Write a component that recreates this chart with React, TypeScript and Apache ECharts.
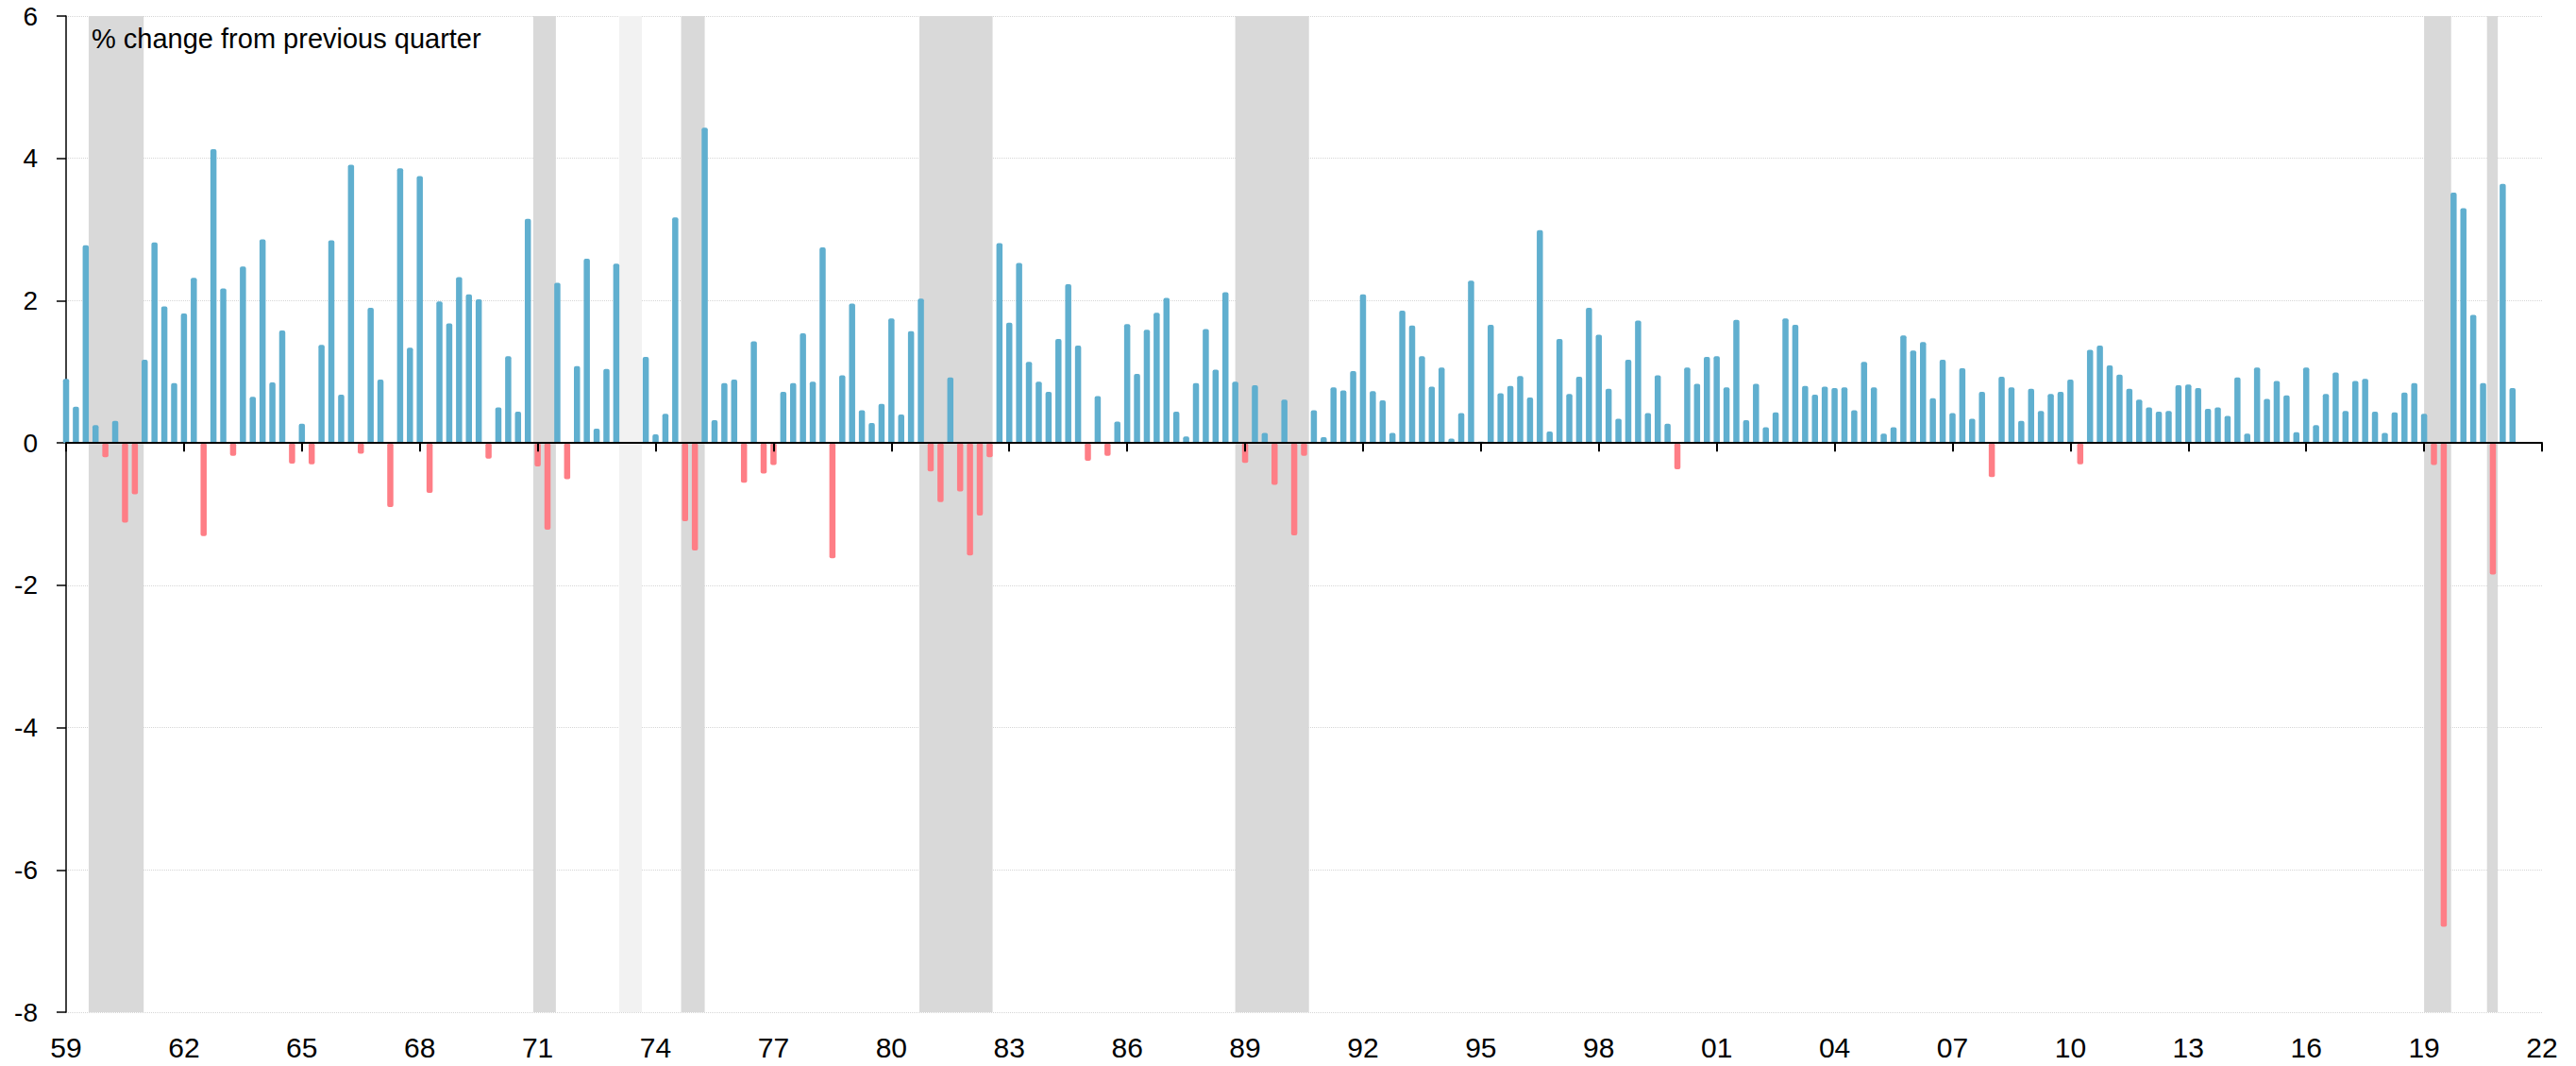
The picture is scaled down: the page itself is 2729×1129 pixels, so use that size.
import React, { useEffect, useRef } from "react";
import * as echarts from "echarts";

// Quarterly % change, first bar = Dec quarter 1959, one value per quarter
const growth1959q4to1969q4 = [
  0.9, 0.51, 2.78, 0.25, -0.2, 0.31, -1.12, -0.72, 1.17, 2.82, 1.92, 0.84,
  1.82, 2.32, -1.31, 4.13, 2.17, -0.18, 2.48, 0.65, 2.86, 0.85, 1.58, -0.29,
  0.27, -0.3, 1.38, 2.85, 0.68, 3.91, -0.15, 1.9, 0.89, -0.9, 3.86, 1.34,
  3.75, -0.7, 1.99, 1.68, 2.33,
];
const growth1970s = [
  2.09, 2.02, -0.22, 0.5, 1.22, 0.44, 3.15, -0.33, -1.22, 2.25, -0.51, 1.08,
  2.59, 0.2, 1.04, 2.52, null, null, 1.21, 0.12, 0.41, 3.17, -1.1, -1.51,
  4.43, 0.32, 0.84, 0.89, -0.56, 1.43, -0.43, -0.31, 0.72, 0.84, 1.54, 0.86,
  2.75, -1.62, 0.95, 1.96,
];
const growth1980s = [
  0.46, 0.28, 0.55, 1.75, 0.4, 1.57, 2.03, -0.4, -0.83, 0.92, -0.68, -1.58,
  -1.02, -0.2, 2.81, 1.69, 2.53, 1.14, 0.86, 0.72, 1.46, 2.23, 1.37, -0.25,
  0.66, -0.18, 0.3, 1.67, 0.97, 1.59, 1.83, 2.04, 0.44, 0.09, 0.84, 1.6,
  1.03, 2.12, 0.86, -0.28,
];
const growth1990s = [
  0.81, 0.14, -0.59, 0.61, -1.3, -0.18, 0.46, 0.08, 0.78, 0.74, 1.01, 2.09,
  0.73, 0.6, 0.14, 1.86, 1.65, 1.22, 0.79, 1.06, 0.06, 0.42, 2.28, 0.02,
  1.66, 0.7, 0.8, 0.94, 0.64, 2.99, 0.16, 1.46, 0.69, 0.93, 1.9, 1.52,
  0.76, 0.34, 1.17, 1.72,
];
const growth2000s = [
  0.42, 0.95, 0.27, -0.37, 1.06, 0.83, 1.21, 1.22, 0.78, 1.73, 0.32, 0.83,
  0.22, 0.43, 1.75, 1.66, 0.8, 0.68, 0.79, 0.77, 0.78, 0.46, 1.14, 0.78,
  0.13, 0.22, 1.51, 1.3, 1.42, 0.63, 1.17, 0.42, 1.05, 0.34, 0.72, -0.48,
  0.93, 0.78, 0.31, 0.76,
];
const growth2010s = [
  0.45, 0.69, 0.72, 0.89, -0.3, 1.31, 1.37, 1.09, 0.96, 0.76, 0.61, 0.5,
  0.44, 0.45, 0.81, 0.82, 0.77, 0.48, 0.5, 0.38, 0.92, 0.13, 1.06, 0.62,
  0.87, 0.67, 0.15, 1.06, 0.25, 0.69, 0.99, 0.45, 0.87, 0.9, 0.44, 0.14,
  0.43, 0.71, 0.84, 0.41,
];
const growth2020s = [-0.31, -6.8, 3.52, 3.3, 1.8, 0.84, -1.85, 3.64, 0.77];

// x-axis tick labels (every 12 quarters, Dec quarter of each labelled year)
const xTickLabels = [
  "59", "62", "65", "68", "71", "74", "77", "80", "83", "86", "89",
  "92", "95", "98", "01", "04", "07", "10", "13", "16", "19", "22",
];

// shaded periods, in quarter-index units from the first bar
const recessionBands = [
  [2.3, 7.9],
  [47.55, 49.85],
  [62.6, 65.0],
  [86.85, 94.3],
  [119.0, 126.5],
  [240.0, 242.75],
  [246.4, 247.5],
];
const dataBreakBand = [56.3, 58.6];

const TITLE = "% change from previous quarter";
const FONT = "'Liberation Sans', Arial, sans-serif";
const BLUE = "#60AFCF";
const RED = "#FE7E86";

export default function App() {
  const ref = useRef<HTMLDivElement>(null);

  useEffect(() => {
    document.body.style.margin = "0";
    if (!ref.current) return;
    const chart = echarts.init(ref.current, undefined, { renderer: "svg" });

    const allGrowth: (number | null)[] = [
      ...growth1959q4to1969q4,
      ...growth1970s,
      ...growth1980s,
      ...growth1990s,
      ...growth2000s,
      ...growth2010s,
      ...growth2020s,
    ];
    const barData = allGrowth
      .map((v, i) => (v === null ? null : [i, v]))
      .filter((d) => d !== null);

    const xMax = (xTickLabels.length - 1) * 12;

    const option: any = {
      animation: false,
      backgroundColor: "#fff",
      grid: { left: 70, right: 36, top: 17, bottom: 57, containLabel: false },
      graphic: [
        {
          type: "text",
          x: 97,
          y: 41,
          z: 100,
          style: {
            text: TITLE,
            fontSize: 29,
            fontFamily: FONT,
            fill: "#000",
            align: "left",
            verticalAlign: "middle",
          },
        },
      ],
      xAxis: [
        {
          type: "value",
          min: 0,
          max: xMax,
          interval: 12,
          position: "bottom",
          z: 10,
          axisLine: { show: true, onZero: true, lineStyle: { color: "#000", width: 2 } },
          axisTick: { show: true, length: 9, lineStyle: { color: "#000", width: 2 } },
          axisLabel: { show: false },
          splitLine: { show: false },
        },
        {
          type: "value",
          min: 0,
          max: xMax,
          interval: 12,
          position: "bottom",
          axisLine: { show: false, onZero: false },
          axisTick: { show: false },
          splitLine: { show: false },
          axisLabel: {
            show: true,
            margin: 22,
            fontSize: 30,
            lineHeight: 30,
            fontFamily: FONT,
            color: "#000",
            formatter: (v: number) => xTickLabels[Math.round(v / 12)] ?? "",
          },
        },
      ],
      yAxis: {
        type: "value",
        min: -8,
        max: 6,
        interval: 2,
        axisLine: { show: true, lineStyle: { color: "#000", width: 1.5 } },
        axisTick: { show: true, length: 10, lineStyle: { color: "#000", width: 1.5 } },
        axisLabel: { fontSize: 28, fontFamily: FONT, color: "#000", margin: 30 },
        splitLine: { show: true, lineStyle: { color: "#d6d6d6", type: "dotted", width: 1 } },
      },
      series: [
        {
          type: "line",
          name: "recessions",
          data: [],
          z: 1,
          silent: true,
          markArea: {
            silent: true,
            itemStyle: { color: "#d9d9d9", opacity: 1 },
            data: recessionBands.map(([a, b]) => [{ xAxis: a }, { xAxis: b }]),
          },
        },
        {
          type: "bar",
          name: "growth",
          xAxisIndex: 0,
          data: barData,
          barWidth: 6.5,
          z: 2,
          itemStyle: {
            borderRadius: 2,
            color: (p: any) => (p.value[1] < 0 ? RED : BLUE),
          },
        },
        {
          type: "line",
          name: "break",
          data: [],
          z: 11,
          silent: true,
          markArea: {
            silent: true,
            itemStyle: { color: "#f2f2f2", opacity: 1 },
            data: [[{ xAxis: dataBreakBand[0] }, { xAxis: dataBreakBand[1] }]],
          },
        },
      ],
    };

    chart.setOption(option);
    return () => chart.dispose();
  }, []);

  return <div ref={ref} style={{ width: 2729, height: 1129 }} />;
}
